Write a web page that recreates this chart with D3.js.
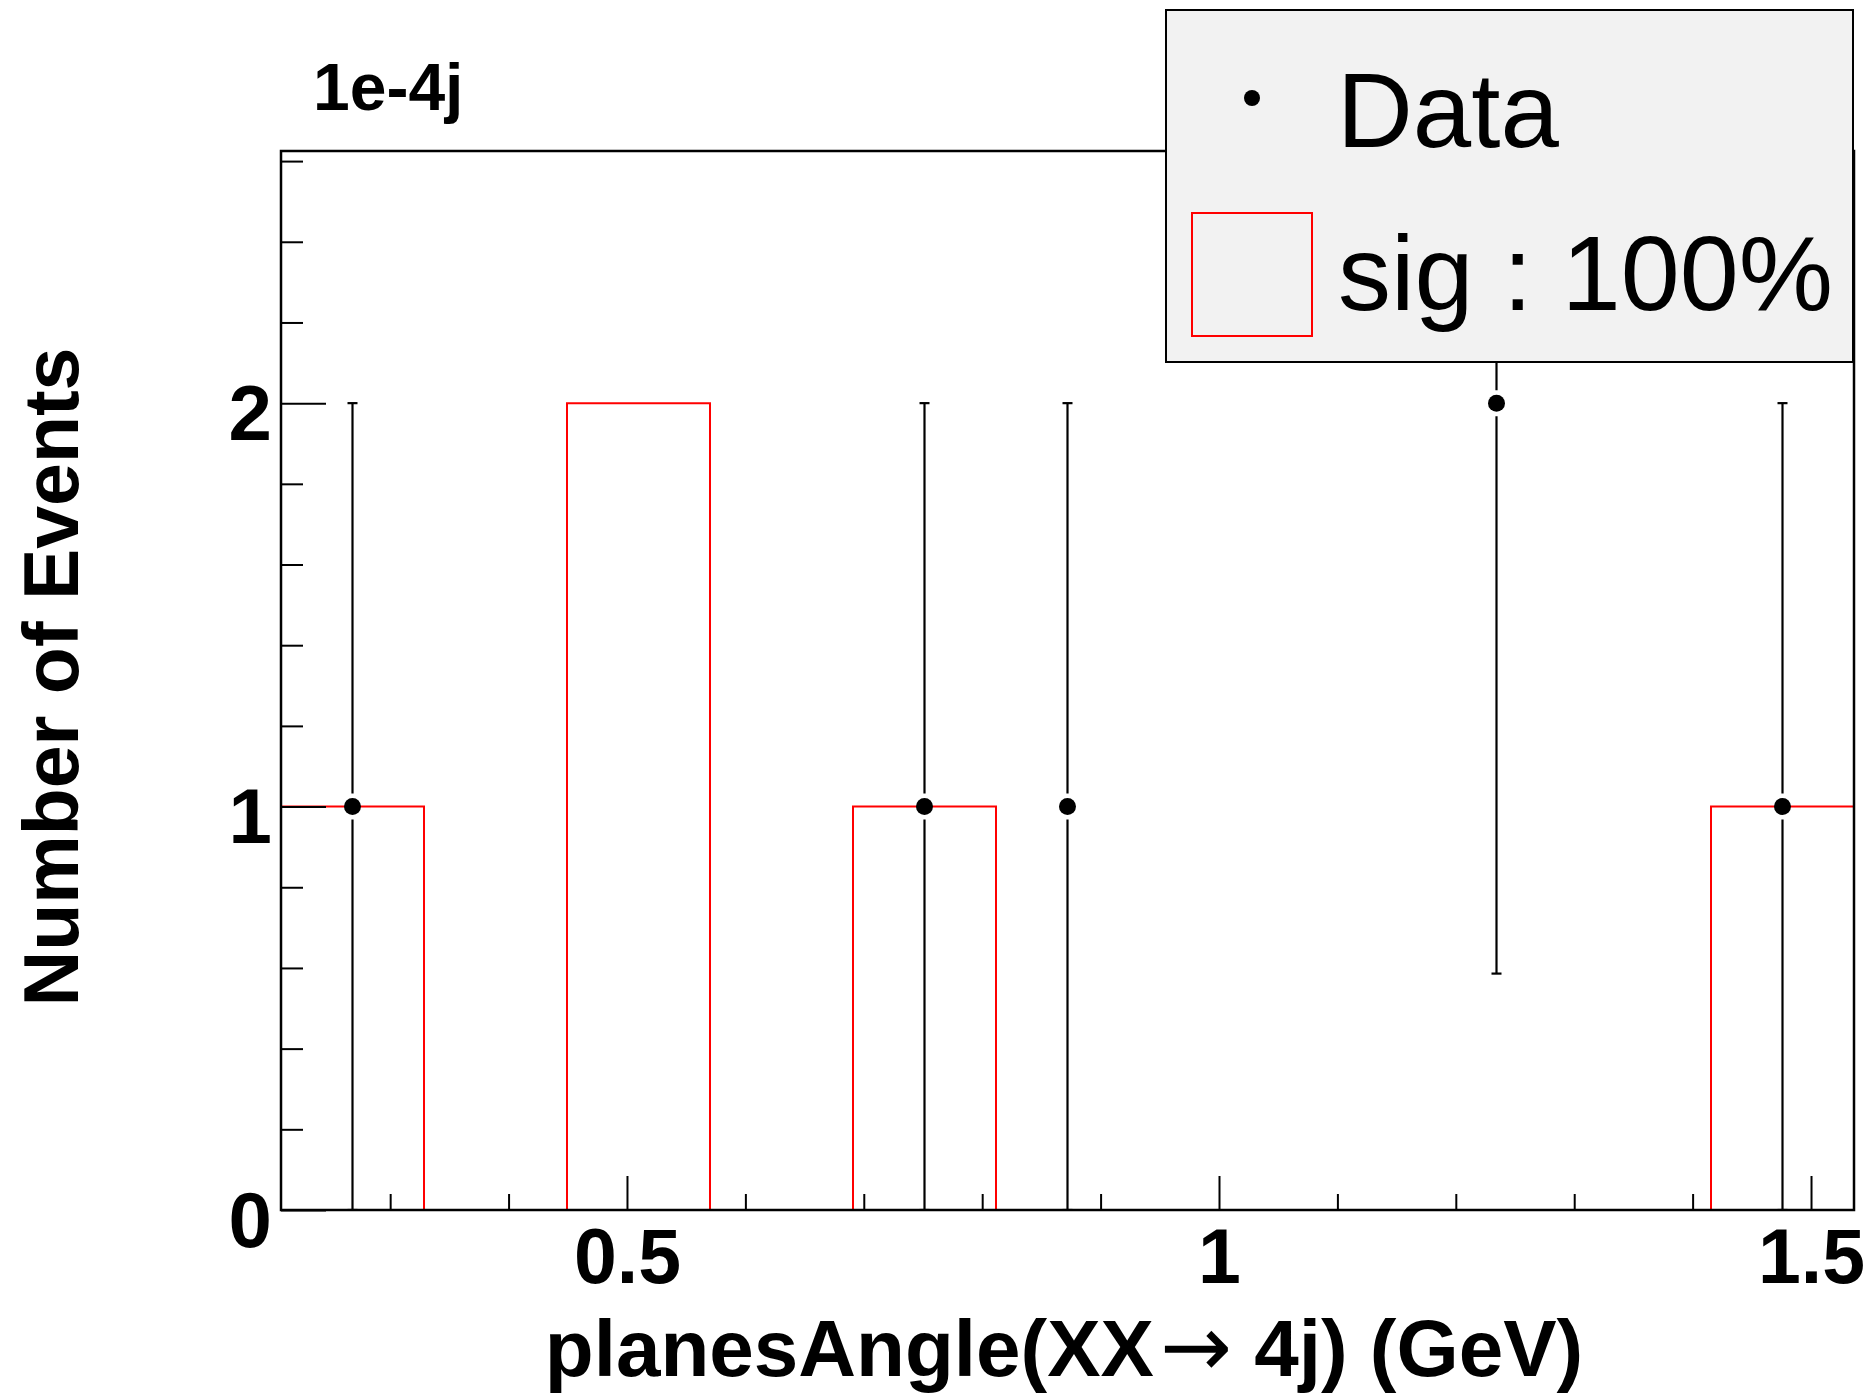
<!DOCTYPE html>
<html><head><meta charset="utf-8">
<script src="https://cdn.jsdelivr.net/npm/d3@7"></script>
<style>body{margin:0;background:#fff}</style></head>
<body>
<svg id="c" width="1872" height="1395"></svg>
<script>
// ---- data ----
const xDomain = [0.2078, 1.5363];
const nBins = 11;
const sigCounts = [1, 0, 2, 0, 1, 0, 0, 0, 0, 0, 1];
const dataCounts = [1, 0, 0, 0, 1, 1, 0, 0, 2, 0, 1];
const dataErrLow = [1, 0, 0, 0, 1, 1, 0, 0, 1.414, 0, 1];
const dataErrHigh = [1, 0, 0, 0, 1, 1, 0, 0, 1.414, 0, 1];
const yDomain = [0, 2.625];
const xMajorTicks = [0.5, 1, 1.5];
const xTickLabels = ["0.5", "1", "1.5"];
const xMinorTicks = [0.3, 0.4, 0.6, 0.7, 0.8, 0.9, 1.1, 1.2, 1.3, 1.4];
const yMajorTicks = [0, 1, 2];
const yTickLabels = ["0", "1", "2"];
const yMinorTicks = [0.2, 0.4, 0.6, 0.8, 1.2, 1.4, 1.6, 1.8, 2.2, 2.4, 2.6];
const titleText = "1e-4j";
const xTitle = ["planesAngle(XX", "\u2192", " 4j) (GeV)"];
const yTitle = "Number of Events";
const legendLabels = ["Data", "sig : 100%"];

// ---- layout ----
const W = 1872, H = 1395;
const m = {left: 281, top: 151, right: 18, bottom: 185};
const FONT = "'Liberation Sans', Arial, Helvetica, sans-serif";
const svg = d3.select("#c");
svg.append("rect").attr("width", W).attr("height", H).attr("fill", "#fff");

const x = d3.scaleLinear().domain(xDomain).range([m.left, W - m.right]);
const y = d3.scaleLinear().domain(yDomain).range([H - m.bottom, m.top]);
const binW = (xDomain[1] - xDomain[0]) / nBins;
const bins = sigCounts.map((c, i) => ({
  lo: xDomain[0] + i * binW, hi: xDomain[0] + (i + 1) * binW,
  sig: c, data: dataCounts[i], el: dataErrLow[i], eh: dataErrHigh[i]
}));

svg.append("clipPath").attr("id", "clip").append("rect")
  .attr("x", m.left).attr("y", m.top)
  .attr("width", W - m.left - m.right).attr("height", H - m.top - m.bottom);

// signal histogram outline
const path = d3.path();
path.moveTo(x(bins[0].lo), y(0));
bins.forEach(b => { path.lineTo(x(b.lo), y(b.sig)); path.lineTo(x(b.hi), y(b.sig)); });
path.lineTo(x(bins[bins.length - 1].hi), y(0));
path.closePath();
svg.append("path").attr("d", path.toString()).attr("fill", "none")
  .attr("stroke", "#ff0000").attr("stroke-width", 2).attr("clip-path", "url(#clip)");

// data points with error bars
const pts = bins.filter(b => b.data > 0);
const gEb = svg.append("g").attr("clip-path", "url(#clip)").attr("stroke", "#000").attr("stroke-width", 2.2);
const gap = 13;
pts.forEach(b => {
  const cx = x((b.lo + b.hi) / 2), cy = y(b.data);
  const yTop = y(b.data + b.eh), yBot = y(b.data - b.el);
  gEb.append("line").attr("x1", cx).attr("x2", cx).attr("y1", yTop).attr("y2", cy - gap);
  gEb.append("line").attr("x1", cx).attr("x2", cx).attr("y1", cy + gap).attr("y2", yBot);
  gEb.append("line").attr("x1", cx - 5).attr("x2", cx + 5).attr("y1", yTop).attr("y2", yTop);
  gEb.append("line").attr("x1", cx - 5).attr("x2", cx + 5).attr("y1", yBot).attr("y2", yBot);
});
svg.append("g").selectAll("circle").data(pts).join("circle")
  .attr("cx", b => x((b.lo + b.hi) / 2)).attr("cy", b => y(b.data))
  .attr("r", 8.5).attr("fill", "#000");

// axes
const xAxisMajor = d3.axisBottom(x).tickValues(xMajorTicks).tickSizeInner(-34).tickSizeOuter(0)
  .tickFormat((d, i) => xTickLabels[i]);
const xAxisMinor = d3.axisBottom(x).tickValues(xMinorTicks).tickSizeInner(-16).tickSizeOuter(0).tickFormat("");
const gx = svg.append("g").attr("transform", `translate(0,${H - m.bottom})`).call(xAxisMajor);
svg.append("g").attr("transform", `translate(0,${H - m.bottom})`).call(xAxisMinor);
gx.selectAll("text").attr("y", 73).attr("dy", 0)
  .attr("font-family", FONT).attr("font-weight", "bold").attr("font-size", 77).attr("fill", "#000");

const yAxisMajor = d3.axisLeft(y).tickValues(yMajorTicks).tickSizeInner(-45).tickSizeOuter(0)
  .tickFormat((d, i) => yTickLabels[i]);
const yAxisMinor = d3.axisLeft(y).tickValues(yMinorTicks).tickSizeInner(-22).tickSizeOuter(0).tickFormat("");
const gy = svg.append("g").attr("transform", `translate(${m.left},0)`).call(yAxisMajor);
svg.append("g").attr("transform", `translate(${m.left},0)`).call(yAxisMinor);
gy.selectAll("text").attr("x", -9).attr("dy", 0).attr("y", 36)
  .attr("text-anchor", "end")
  .attr("font-family", FONT).attr("font-weight", "bold").attr("font-size", 78).attr("fill", "#000");
svg.selectAll(".domain").remove();
svg.selectAll(".tick line").attr("stroke", "#000").attr("stroke-width", 2);

// frame
svg.append("rect").attr("x", m.left).attr("y", m.top)
  .attr("width", W - m.left - m.right).attr("height", H - m.top - m.bottom)
  .attr("fill", "none").attr("stroke", "#000").attr("stroke-width", 2.5);

// titles
svg.append("text").attr("x", 313).attr("y", 110).text(titleText)
  .attr("font-family", FONT).attr("font-weight", "bold").attr("font-size", 66);

const xt = svg.append("text").attr("x", 1064).attr("y", 1376).attr("text-anchor", "middle")
  .attr("font-family", FONT).attr("font-weight", "bold").attr("font-size", 80);
xt.append("tspan").text(xTitle[0]);
xt.append("tspan").text(xTitle[1]).attr("font-weight", "normal").attr("font-family", "'DejaVu Sans', sans-serif")
  .attr("font-size", 86).attr("dx", 6);
xt.append("tspan").text(xTitle[2]);

svg.append("text").attr("transform", `translate(78,677) rotate(-90)`).attr("text-anchor", "middle")
  .text(yTitle).attr("font-family", FONT).attr("font-weight", "bold").attr("font-size", 77);

// legend
const lg = svg.append("g");
lg.append("rect").attr("x", 1166).attr("y", 10).attr("width", 687).attr("height", 352)
  .attr("fill", "#f2f2f2").attr("stroke", "#000").attr("stroke-width", 2);
lg.append("circle").attr("cx", 1252).attr("cy", 98).attr("r", 8).attr("fill", "#000");
lg.append("text").attr("x", 1337).attr("y", 147).text(legendLabels[0])
  .attr("font-family", FONT).attr("font-size", 105);
lg.append("rect").attr("x", 1192).attr("y", 213).attr("width", 120).attr("height", 123)
  .attr("fill", "none").attr("stroke", "#ff0000").attr("stroke-width", 2);
lg.append("text").attr("x", 1338).attr("y", 310).text(legendLabels[1])
  .attr("font-family", FONT).attr("font-size", 106);
</script>
</body></html>
